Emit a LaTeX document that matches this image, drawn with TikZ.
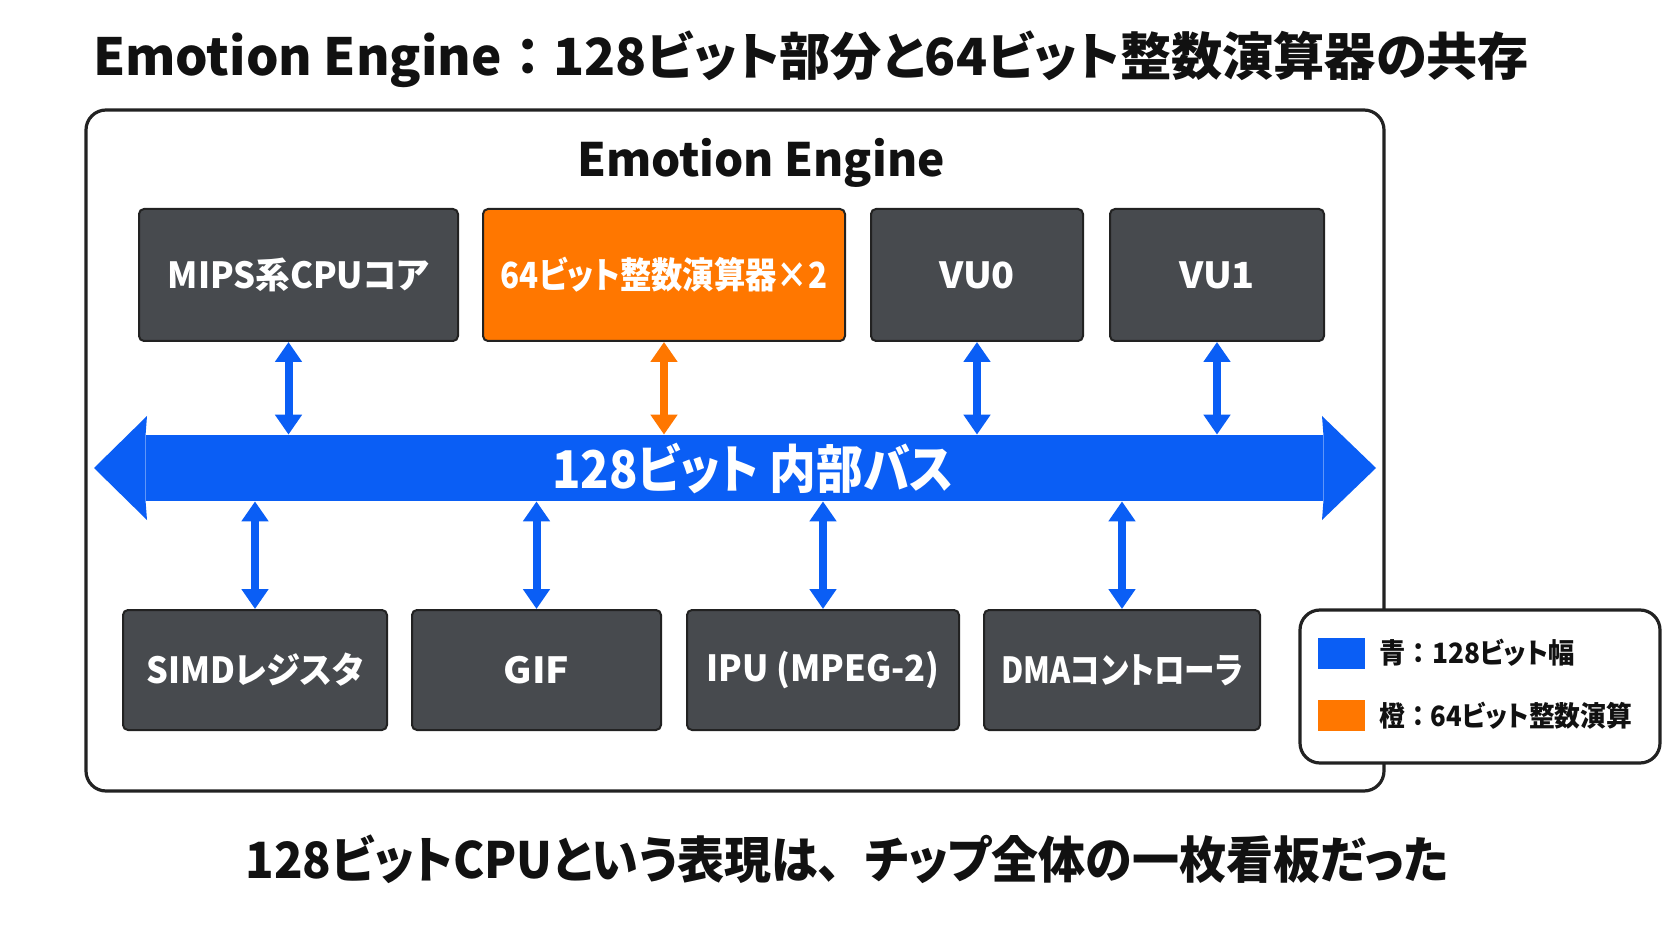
\documentclass[tikz,border=0pt]{standalone}
\usepackage{fontspec}
\usepackage{graphicx}
\setmainfont{Noto Sans CJK JP}[RawFeature=+palt]
\usetikzlibrary{arrows.meta}
\definecolor{boxgray}{HTML}{474A4E}
\definecolor{eeorange}{HTML}{FF7700}
\definecolor{eeblue}{HTML}{0A5EF5}
\definecolor{edge}{HTML}{222222}
\definecolor{ink}{HTML}{111111}
\newcommand\fw[1]{{\addfontfeatures{RawFeature=-palt}#1}}
\newcommand\hs[2]{\scalebox{#1}[1]{#2}}
\newcommand\ubox[7]{\node[#6, minimum width={(#4-#2)*0.5pt}, minimum height={(#5-#3)*0.5pt}] (#1) at ({(#2+#4)/2},{(#3+#5)/2}) {#7};}
\tikzset{
  unitbox/.style={draw=edge, line width=1pt, rounded corners=2.5pt, fill=boxgray, text=white, inner sep=0pt,
    font=\fontsize{18pt}{20pt}\selectfont\bfseries},
  orangebox/.style={unitbox, fill=eeorange},
  panel/.style={draw=edge, line width=1.6pt, rounded corners=10pt, fill=white, inner sep=0pt},
  swatch/.style={inner sep=0pt},
  link/.style={line width=4pt, {Triangle[width=13pt,length=10pt]}-{Triangle[width=13pt,length=10pt]}, eeblue},
  olink/.style={link, eeorange},
  headline/.style={text=ink, inner sep=0pt, font=\fontsize{25.6pt}{28pt}\selectfont\bfseries},
  legendtext/.style={text=ink, inner sep=0pt, anchor=west, font=\fontsize{14pt}{16pt}\selectfont\bfseries},
}
\begin{document}
\begin{tikzpicture}[x=0.5pt,y=-0.5pt]
\useasboundingbox[fill=white] (0,0) rectangle (1672,941);

\node[headline] (title) at (811,59) {Emotion Engine\fw{：}128ビット部分と64ビット整数演算器の共存};

\ubox{chip}{86}{110}{1384}{791}{panel}{}
\node[text=ink, inner sep=0pt, font=\fontsize{23pt}{26pt}\selectfont\bfseries] (chiptitle) at (761,163) {Emotion Engine};

% top units
\ubox{mips}{139}{209}{458}{341}{unitbox}{\hs{0.96}{MIPS系CPUコア}}
\ubox{int64}{483}{209}{845}{341}{orangebox}{\hs{0.87}{64ビット整数演算器×2}}
\ubox{vu0}{871}{209}{1083}{341}{unitbox}{\hs{1.05}{VU0}}
\ubox{vu1}{1110}{209}{1324}{341}{unitbox}{\hs{1.05}{VU1}}

% bus
\ubox{bus}{146}{435}{1323}{501}{swatch, fill=eeblue}{}
\fill[eeblue] (bus.north west) -- (147,416) -- (94,468) -- (147,520) -- (bus.south west) -- cycle;
\fill[eeblue] (bus.north east) -- (1322,416) -- (1376,468) -- (1322,520) -- (bus.south east) -- cycle;
\node[text=white, inner sep=0pt, font=\fontsize{26pt}{28pt}\selectfont\bfseries] (buslabel) at (753,469) {\hs{0.9}{128ビット 内部バス}};

% bottom units
\ubox{simd}{123}{610}{387}{730}{unitbox}{\hs{0.95}{SIMDレジスタ}}
\ubox{gif}{412}{610}{661}{730}{unitbox}{\hs{1.08}{GIF}}
\ubox{ipu}{687}{610}{959}{730}{unitbox}{\hs{0.96}{IPU (MPEG-2)}}
\ubox{dma}{984}{610}{1260}{730}{unitbox}{\hs{0.85}{DMAコントローラ}}

% connectors
\coordinate (mipsport) at ([xshift=-5pt]mips.south);
\draw[link] (mipsport) -- (mipsport |- bus.north);
\draw[olink] (int64.south) -- (int64.south |- bus.north);
\draw[link] (vu0.south) -- (vu0.south |- bus.north);
\draw[link] (vu1.south) -- (vu1.south |- bus.north);
\draw[link] (simd.north) -- (simd.north |- bus.south);
\draw[link] (gif.north) -- (gif.north |- bus.south);
\draw[link] (ipu.north) -- (ipu.north |- bus.south);
\draw[link] (dma.north) -- (dma.north |- bus.south);

% legend
\ubox{legend}{1300}{610}{1660}{763}{panel}{}
\ubox{swblue}{1318}{638}{1365}{669}{swatch, fill=eeblue}{}
\ubox{sworange}{1318}{700}{1365}{731}{swatch, fill=eeorange}{}
\node[legendtext] (lgblue) at (1379,653) {\hs{0.94}{青\fw{：}128ビット幅}};
\node[legendtext] (lgorange) at (1379,716) {\hs{0.92}{橙\fw{：}64ビット整数演算}};

\node[headline, font=\fontsize{25pt}{28pt}\selectfont\bfseries] (caption) at (847,859) {\hs{0.94}{128ビットCPUという表現は\fw{、}チップ全体の一枚看板だった}};
\end{tikzpicture}
\end{document}
